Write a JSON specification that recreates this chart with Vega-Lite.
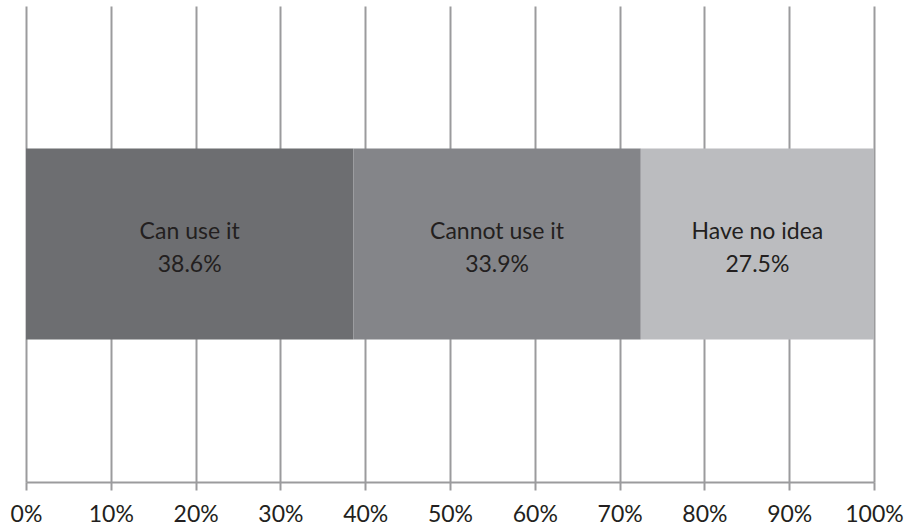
{
  "$schema": "https://vega.github.io/schema/vega-lite/v6.json",
  "width": 848,
  "height": 476,
  "autosize": {"type": "none"},
  "padding": {"left": 26, "top": 6, "right": 37, "bottom": 50},
  "background": "white",
  "config": {
    "view": {"stroke": null},
    "font": "Lato"
  },
  "data": {
    "values": [
      {"answer": "Can use it", "pct": 38.6, "order": 1},
      {"answer": "Cannot use it", "pct": 33.9, "order": 2},
      {"answer": "Have no idea", "pct": 27.5, "order": 3}
    ]
  },
  "transform": [
    {"stack": "pct", "groupby": [], "sort": [{"field": "order"}], "as": ["start", "end"]},
    {"calculate": "(datum.start + datum.end) / 2", "as": "mid"},
    {"calculate": "[datum.answer, format(datum.pct, '.1f') + '%']", "as": "caption"},
    {"calculate": "'all'", "as": "row"}
  ],
  "encoding": {
    "y": {
      "field": "row",
      "type": "nominal",
      "axis": null,
      "scale": {"paddingInner": 0, "paddingOuter": 0.746}
    }
  },
  "layer": [
    {
      "mark": {"type": "bar"},
      "encoding": {
        "x": {
          "field": "start",
          "type": "quantitative",
          "scale": {"domain": [0, 100], "nice": false},
          "axis": {
            "values": [0, 10, 20, 30, 40, 50, 60, 70, 80, 90, 100],
            "labelExpr": "datum.value + '%'",
            "title": null,
            "grid": true,
            "gridColor": "#9b9b9d",
            "gridWidth": 2,
            "domainColor": "#9b9b9d",
            "domainWidth": 2,
            "tickColor": "#9b9b9d",
            "tickWidth": 2,
            "tickSize": 8,
            "labelFontSize": 23,
            "labelColor": "#231f20",
            "labelPadding": 13,
            "labelFlush": false,
            "labelOverlap": false
          }
        },
        "x2": {"field": "end"},
        "color": {
          "field": "answer",
          "type": "nominal",
          "legend": null,
          "scale": {
            "domain": ["Can use it", "Cannot use it", "Have no idea"],
            "range": ["#6d6e71", "#848589", "#bbbcbf"]
          }
        }
      }
    },
    {
      "mark": {"type": "text", "fontSize": 23, "color": "#231f20", "lineHeight": 33, "baseline": "alphabetic", "dy": -5},
      "encoding": {
        "x": {"field": "mid", "type": "quantitative"},
        "text": {"field": "caption"}
      }
    }
  ]
}
